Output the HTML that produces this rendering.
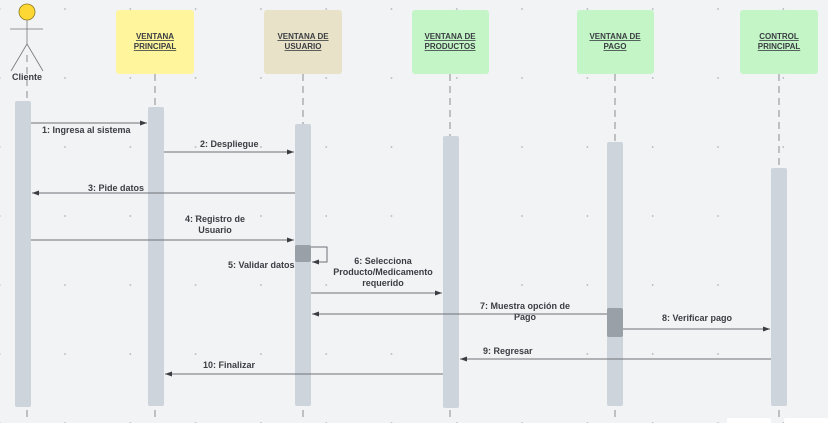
<!DOCTYPE html>
<html><head><style>
html,body{margin:0;padding:0;background:#f2f3f5;}
svg{display:block;}
text{font-family:"Liberation Sans",Arial,sans-serif;font-weight:bold;font-size:9px;fill:#3a3d42;}
.h{font-size:8px;text-decoration:underline;fill:#3a3d42;}
</style></head><body>
<svg width="828" height="423" viewBox="0 0 828 423" xmlns="http://www.w3.org/2000/svg">
<defs>
<pattern id="dots" x="32.35" y="-25.5" width="65.3" height="69" patternUnits="userSpaceOnUse">
<circle cx="32.65" cy="34.5" r="0.9" fill="#b0b4ba"/>
</pattern>
<marker id="a" markerWidth="8" markerHeight="6" refX="7" refY="3" orient="auto" markerUnits="userSpaceOnUse"><path d="M0,0.5 L7,3 L0,5.5 Z" fill="#3a3d42"/></marker>
</defs>
<rect width="828" height="423" fill="#f2f3f5"/>
<rect width="828" height="423" fill="url(#dots)"/>
<g stroke="#8a8e94" stroke-width="1" stroke-dasharray="7,5">
<line x1="27" y1="55" x2="27" y2="101"/>
<line x1="155" y1="74" x2="155" y2="107"/>
<line x1="303" y1="74" x2="303" y2="124"/>
<line x1="450" y1="74" x2="450" y2="136"/>
<line x1="615" y1="74" x2="615" y2="142"/>
<line x1="779" y1="74" x2="779" y2="168"/>
<line x1="27" y1="410" x2="27" y2="418"/>
<line x1="155" y1="410" x2="155" y2="418"/>
<line x1="303" y1="410" x2="303" y2="418"/>
<line x1="450" y1="410" x2="450" y2="418"/>
<line x1="615" y1="410" x2="615" y2="418"/>
<line x1="779" y1="410" x2="779" y2="418"/>
</g>
<circle cx="27" cy="12" r="8" fill="#fdd835" stroke="#8a7a20" stroke-width="0.8"/>
<g stroke="#777" stroke-width="0.8" fill="none">
<line x1="27" y1="20" x2="27" y2="44"/>
<line x1="10" y1="29" x2="43" y2="29"/>
<line x1="27" y1="44" x2="11" y2="71"/>
<line x1="27" y1="44" x2="43" y2="71"/>
</g>
<text x="27" y="80" text-anchor="middle" style="font-size:9px">Cliente</text>
<rect x="116" y="10" width="78" height="64" rx="3" fill="#fff59d"/>
<rect x="264" y="10" width="78" height="64" rx="3" fill="#e8e2c8"/>
<rect x="412" y="10" width="77" height="64" rx="3" fill="#c3f5c6"/>
<rect x="577" y="10" width="77" height="64" rx="3" fill="#c3f5c6"/>
<rect x="740" y="10" width="78" height="64" rx="3" fill="#c3f5c6"/>
<g text-anchor="middle">
<text class="h" x="155" y="39">VENTANA</text><text class="h" x="155" y="49">PRINCIPAL</text>
<text class="h" x="303" y="39">VENTANA DE</text><text class="h" x="303" y="49">USUARIO</text>
<text class="h" x="450" y="39">VENTANA DE</text><text class="h" x="450" y="49">PRODUCTOS</text>
<text class="h" x="615" y="39">VENTANA DE</text><text class="h" x="615" y="49">PAGO</text>
<text class="h" x="779" y="39">CONTROL</text><text class="h" x="779" y="49">PRINCIPAL</text>
</g>
<g fill="#cdd4dc">
<rect x="15" y="101" width="16" height="306" rx="2"/>
<rect x="148" y="107" width="16" height="299" rx="2"/>
<rect x="295" y="124" width="16" height="282" rx="2"/>
<rect x="443" y="136" width="16" height="272" rx="2"/>
<rect x="607" y="142" width="16" height="264" rx="2"/>
<rect x="771" y="168" width="16" height="238" rx="2"/>
</g>
<rect x="295" y="245" width="16" height="17" rx="2" fill="#9aa0a8"/>
<rect x="607" y="308" width="16" height="29" rx="2" fill="#9aa0a8"/>
<rect x="727" y="418" width="44" height="6" rx="2" fill="#fff"/>
<rect x="784" y="418" width="44" height="6" rx="2" fill="#fff"/>
<g stroke="#6e7278" stroke-width="1" fill="none" marker-end="url(#a)">
<line x1="31" y1="123" x2="147" y2="123"/>
<line x1="164" y1="152" x2="294" y2="152"/>
<line x1="295" y1="193" x2="32" y2="193"/>
<line x1="31" y1="240" x2="294" y2="240"/>
<path d="M311,247 H327 V262 H312"/>
<line x1="311" y1="293" x2="442" y2="293"/>
<line x1="607" y1="314" x2="312" y2="314"/>
<line x1="623" y1="329" x2="770" y2="329"/>
<line x1="771" y1="359" x2="460" y2="359"/>
<line x1="443" y1="374" x2="165" y2="374"/>
</g>
<text x="42" y="133">1: Ingresa al sistema</text>
<text x="200" y="147">2: Despliegue</text>
<text x="88" y="191">3: Pide datos</text>
<text x="215" y="222" text-anchor="middle">4:  Registro de</text>
<text x="215" y="233" text-anchor="middle">Usuario</text>
<text x="228" y="268">5:  Validar datos</text>
<text x="383" y="264" text-anchor="middle">6:  Selecciona</text>
<text x="383" y="275" text-anchor="middle">Producto/Medicamento</text>
<text x="383" y="286" text-anchor="middle">requerido</text>
<text x="525" y="309" text-anchor="middle">7: Muestra opción de</text>
<text x="525" y="320" text-anchor="middle">Pago</text>
<text x="662" y="321">8: Verificar pago</text>
<text x="483" y="354">9:  Regresar</text>
<text x="203" y="368">10: Finalizar</text>
</svg>
</body></html>
